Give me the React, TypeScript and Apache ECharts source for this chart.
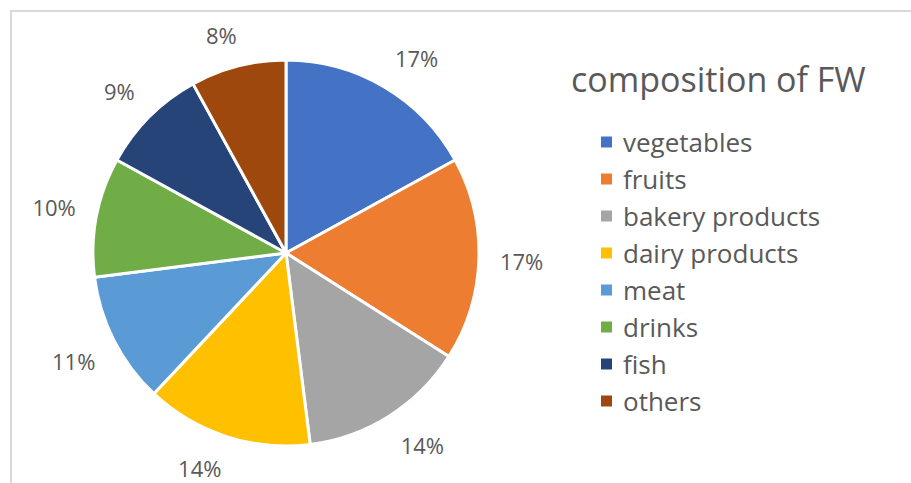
import React, { useEffect, useRef } from "react";
import * as echarts from "echarts";

const categories = ["vegetables", "fruits", "bakery products", "dairy products", "meat", "drinks", "fish", "others"];
const values = [17, 17, 14, 14, 11, 10, 9, 8];
const colors = ["#4472C4", "#ED7D31", "#A5A5A5", "#FFC000", "#5B9BD5", "#70AD47", "#264478", "#9E480E"];
const titleText = "composition of FW";

export default function App() {
  const ref = useRef<HTMLDivElement>(null);
  useEffect(() => {
    document.body.style.margin = "0";
    const chart = echarts.init(ref.current!, null, { renderer: "svg" });
    const font = "'Open Sans', 'Noto Sans', sans-serif";
    const cx = 286;
    const cy = 253;
    const radius = 193;
    const labelDist = 214;
    const total = values.reduce((a, b) => a + b, 0);
    const midAngles: number[] = [];
    let acc = 0;
    values.forEach((v) => {
      midAngles.push(((acc + v / 2) / total) * Math.PI * 2);
      acc += v;
    });
    const clamp = (v: number) => Math.max(-1, Math.min(1, v));
    chart.setOption({
      animation: false,
      backgroundColor: "#ffffff",
      title: {
        text: titleText,
        left: 566,
        top: 57,
        textStyle: { fontFamily: font, fontSize: 34, fontWeight: "normal", color: "#595959" },
      },
      legend: {
        orient: "vertical",
        left: 594,
        top: 124,
        itemWidth: 13,
        itemHeight: 13,
        itemGap: 11,
        icon: "rect",
        data: categories,
        textStyle: { fontFamily: font, fontSize: 26, color: "#595959", padding: [0, 0, 0, 5] },
      },
      graphic: [
        {
          type: "rect",
          shape: { x: 11, y: 11, width: 1000, height: 1000 },
          style: { fill: "none", stroke: "#d9d9d9", lineWidth: 2 },
          silent: true,
          z: -1,
        },
      ],
      series: [
        {
          type: "pie",
          center: [cx, cy],
          radius: [0, radius],
          startAngle: 90,
          clockwise: true,
          avoidLabelOverlap: false,
          label: {
            show: true,
            position: "outside",
            formatter: (p: any) => p.value + "%",
            fontFamily: font,
            fontSize: 22,
            color: "#595959",
          },
          labelLine: { show: false },
          labelLayout: (params: any) => {
            const a = midAngles[params.dataIndex];
            const ux = Math.sin(a);
            const uy = -Math.cos(a);
            const w = params.labelRect.width;
            const h = params.labelRect.height;
            return {
              x: cx + labelDist * ux + (w / 2) * clamp(ux * 3),
              y: cy + labelDist * uy + (h / 2) * clamp(uy * 3),
              align: "center",
              verticalAlign: "middle",
            };
          },
          emphasis: { disabled: true },
          itemStyle: { borderColor: "#ffffff", borderWidth: 3 },
          data: categories.map((n, i) => ({ name: n, value: values[i], itemStyle: { color: colors[i] } })),
        },
      ],
    });
    return () => chart.dispose();
  }, []);
  return <div ref={ref} style={{ width: 911, height: 483 }} />;
}
